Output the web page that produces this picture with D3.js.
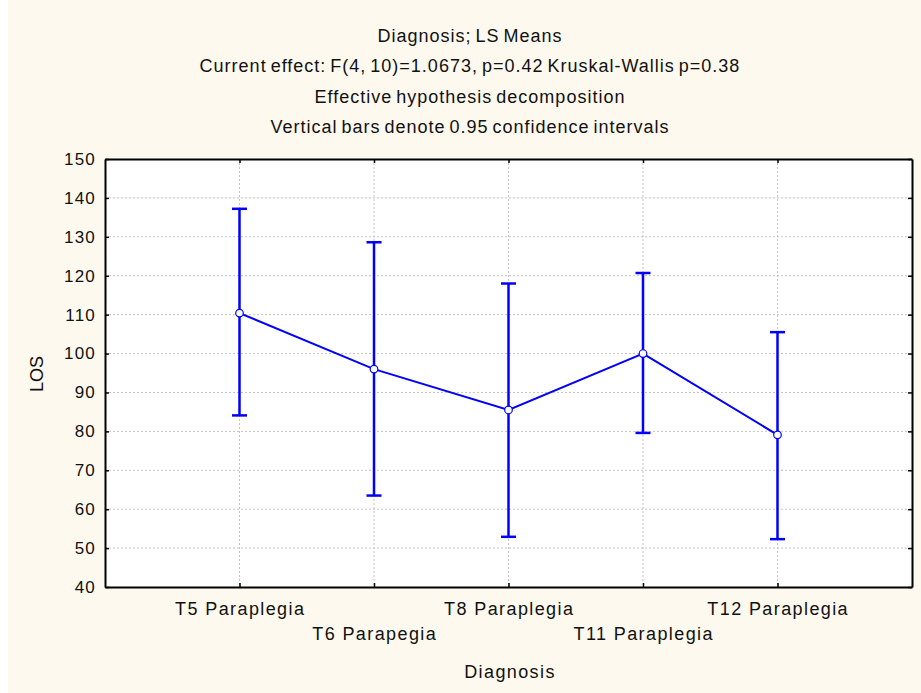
<!DOCTYPE html>
<html><head><meta charset="utf-8">
<script src="https://cdn.jsdelivr.net/npm/d3@7"></script>
<style>
html,body{margin:0;padding:0;background:#fff;}
svg{display:block;}
text{font-family:"Liberation Sans",Arial,sans-serif;fill:#111;}
</style></head>
<body>
<svg id="chart" width="921" height="693"></svg>
<script>
const categories = ["T5 Paraplegia","T6 Parapegia","T8 Paraplegia","T11 Paraplegia","T12 Paraplegia"];
const means = [110.4, 96.0, 85.5, 100.0, 79.1];
const lower = [84.1, 63.5, 52.9, 79.6, 52.3];
const upper = [137.2, 128.6, 118.0, 120.7, 105.5];
const yTicks = [40,50,60,70,80,90,100,110,120,130,140,150];
const titleLines = ["Diagnosis; LS Means",
  "Current effect: F(4, 10)=1.0673, p=0.42 Kruskal-Wallis p=0.38",
  "Effective hypothesis decomposition",
  "Vertical bars denote 0.95 confidence intervals"];

const W = 921, H = 693;
const svg = d3.select("#chart");
svg.append("rect").attr("x",0).attr("y",0).attr("width",W).attr("height",H).attr("fill","#fff");
svg.append("rect").attr("x",8).attr("y",0).attr("width",W-8).attr("height",H).attr("fill","#fdf9ee");

const m = {left:105, right:912, top:159, bottom:587};
svg.append("rect").attr("x",m.left).attr("y",m.top).attr("width",m.right-m.left).attr("height",m.bottom-m.top).attr("fill","#fff");

const x = d3.scaleLinear().domain([0, categories.length+1]).range([m.left, m.right]);
const xi = i => x(i+1);
const y = d3.scaleLinear().domain([40,150]).range([m.bottom, m.top]);

// grid
const g = svg.append("g");
g.selectAll(".hg").data(yTicks.slice(1,-1)).join("line")
  .attr("x1",m.left).attr("x2",m.right).attr("y1",d=>y(d)).attr("y2",d=>y(d))
  .attr("stroke","#c4c4c4").attr("stroke-width",1).attr("stroke-dasharray","2,2");
g.selectAll(".vg").data(categories).join("line")
  .attr("x1",(d,i)=>xi(i)).attr("x2",(d,i)=>xi(i)).attr("y1",m.top).attr("y2",m.bottom)
  .attr("stroke","#c4c4c4").attr("stroke-width",1).attr("stroke-dasharray","2,2");

// axes
const yAxisL = d3.axisLeft(y).tickValues(yTicks).tickSizeInner(-4).tickSizeOuter(0).tickPadding(9);
const yAxisR = d3.axisRight(y).tickValues(yTicks).tickSizeInner(-4).tickSizeOuter(0).tickFormat("");
const xAxisB = d3.axisBottom(x).tickValues(d3.range(1,categories.length+1)).tickSizeInner(-4).tickSizeOuter(0).tickFormat("");
const xAxisT = d3.axisTop(x).tickValues(d3.range(1,categories.length+1)).tickSizeInner(-4).tickSizeOuter(0).tickFormat("");

function styleAxis(sel){
  sel.select(".domain").attr("stroke","#000").attr("stroke-width",2);
  sel.selectAll(".tick line").attr("stroke","#000").attr("stroke-width",1.5);
  sel.selectAll(".tick text").attr("font-size",17).attr("letter-spacing","1.2px")
    .attr("font-family","Liberation Sans, Arial, sans-serif").attr("fill","#111");
}
svg.append("g").attr("transform",`translate(${m.left},0)`).call(yAxisL).call(styleAxis);
svg.append("g").attr("transform",`translate(${m.right},0)`).call(yAxisR).call(styleAxis);
svg.append("g").attr("transform",`translate(0,${m.bottom})`).call(xAxisB).call(styleAxis);
svg.append("g").attr("transform",`translate(0,${m.top})`).call(xAxisT).call(styleAxis);

// x labels (staggered)
svg.selectAll(".xl").data(categories).join("text")
  .attr("x",(d,i)=>xi(i)+0.7).attr("y",(d,i)=> i%2===0 ? 615 : 640)
  .attr("text-anchor","middle").attr("font-size",18).attr("letter-spacing","1.4px").text(d=>d);

// error bars
const blue = "#0000ff";
const eb = svg.append("g");
categories.forEach((c,i)=>{
  eb.append("line").attr("x1",xi(i)).attr("x2",xi(i)).attr("y1",y(lower[i])).attr("y2",y(upper[i]))
    .attr("stroke",blue).attr("stroke-width",2.5);
  [lower[i],upper[i]].forEach(v=>{
    eb.append("line").attr("x1",xi(i)-7.5).attr("x2",xi(i)+7.5).attr("y1",y(v)).attr("y2",y(v))
      .attr("stroke",blue).attr("stroke-width",2.5);
  });
});
// mean line
const line = d3.line().x((d,i)=>xi(i)).y(d=>y(d));
svg.append("path").datum(means).attr("d",line).attr("fill","none").attr("stroke",blue).attr("stroke-width",2);
svg.selectAll(".pt").data(means).join("circle")
  .attr("cx",(d,i)=>xi(i)).attr("cy",d=>y(d)).attr("r",3.8)
  .attr("fill","#fff").attr("stroke",blue).attr("stroke-width",1.2);

// titles
svg.selectAll(".tt").data(titleLines).join("text")
  .attr("x",470).attr("y",(d,i)=>42+i*30.3).attr("text-anchor","middle").attr("font-size",18)
  .attr("letter-spacing","1px").attr("word-spacing","-2px").text(d=>d);

// axis titles
svg.append("text").attr("x",510).attr("y",678).attr("text-anchor","middle").attr("font-size",18)
  .attr("letter-spacing","1.4px").text("Diagnosis");
svg.append("text").attr("transform","translate(43,374) rotate(-90)").attr("text-anchor","middle").attr("font-size",18).text("LOS");
</script>
</body></html>
